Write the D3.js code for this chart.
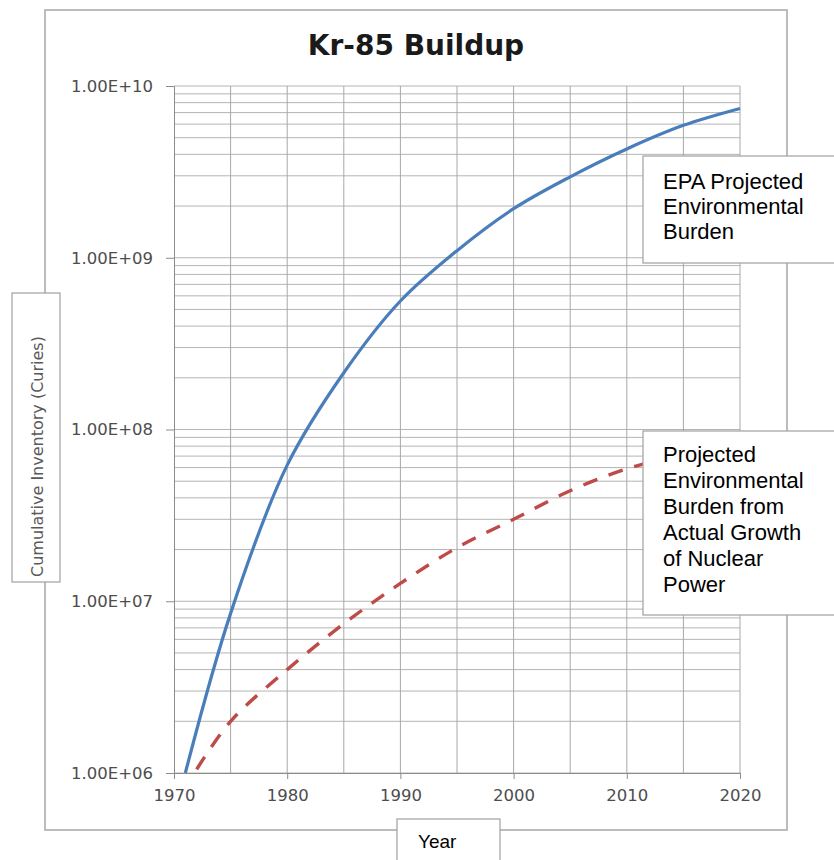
<!DOCTYPE html>
<html>
<head>
<meta charset="utf-8">
<script src="https://cdn.jsdelivr.net/npm/d3@7"></script>
<style>
  html, body { margin: 0; padding: 0; background: #fff; }
  svg { display: block; }
</style>
</head>
<body>
<svg id="chart" width="834" height="860"></svg>
<script>
// Kr-85 buildup, log-scale cumulative inventory
const epaYears   = [1971, 1975, 1980, 1985, 1990, 1995, 2000, 2005, 2010, 2015, 2020];
const epaValues  = [1.0e6, 8.5e6, 6.2e7, 2.14e8, 5.6e8, 1.1e9, 1.93e9, 2.96e9, 4.3e9, 5.9e9, 7.4e9];
const actYears   = [1972, 1975, 1980, 1985, 1990, 1995, 2000, 2005, 2010, 2015, 2020];
const actValues  = [1.05e6, 2.0e6, 4.0e6, 7.4e6, 1.27e7, 2.05e7, 3.0e7, 4.4e7, 5.9e7, 7.2e7, 8.5e7];
const xTicks     = [1970, 1980, 1990, 2000, 2010, 2020];
const xGrid      = [1975, 1980, 1985, 1990, 1995, 2000, 2005, 2010, 2015, 2020];
const yTicks     = [1e6, 1e7, 1e8, 1e9, 1e10];
const epaLabel   = ['EPA Projected', 'Environmental', 'Burden'];
const actLabel   = ['Projected', 'Environmental', 'Burden from', 'Actual Growth', 'of Nuclear', 'Power'];

const BLUE = '#4a7ebb', RED = '#be4b48', GRID = '#b4b4b4', VGRID = '#a8a8a8', AXIS = '#8c8c8c', TXT = '#4d4d4d';
const PL = 174, PR = 740, PT = 86, PB = 773;

const svg = d3.select('#chart');
const x = d3.scaleLinear().domain([1970, 2020]).range([PL, PR]);
const y = d3.scaleLog().domain([1e6, 1e10]).range([PB, PT]);

// outer chart frame
svg.append('rect').attr('x', 45).attr('y', 10).attr('width', 742).attr('height', 820)
  .attr('fill', '#fff').attr('stroke', '#a6a6a6').attr('stroke-width', 1.5);

svg.append('text').attr('x', 416).attr('y', 55).attr('text-anchor', 'middle')
  .attr('font-family', '"DejaVu Sans", sans-serif').attr('font-weight', 'bold').attr('font-size', 28)
  .attr('fill', '#1a1a1a').text('Kr-85 Buildup');

// log grid: 1..9 per decade
const minor = [];
for (let k = 6; k < 10; k++) for (let m = 1; m <= 9; m++) minor.push(m * Math.pow(10, k));
minor.push(1e10);
const grid = svg.append('g');
grid.selectAll('line.h').data(minor).join('line').attr('class', 'h')
  .attr('x1', PL).attr('x2', PR).attr('y1', d => y(d)).attr('y2', d => y(d))
  .attr('stroke', GRID).attr('stroke-width', 1);
grid.selectAll('line.v').data(xGrid).join('line').attr('class', 'v')
  .attr('x1', d => x(d)).attr('x2', d => x(d)).attr('y1', PT).attr('y2', PB)
  .attr('stroke', VGRID).attr('stroke-width', 1);

// axes
const fmt = d => d3.format('.2e')(d).replace('e+', 'E+').replace(/E\+(\d)$/, 'E+0$1');
const yAx = svg.append('g').attr('transform', `translate(${PL},0)`)
  .call(d3.axisLeft(y).tickValues(yTicks).tickFormat(fmt).tickSize(8).tickPadding(13));
const xAx = svg.append('g').attr('transform', `translate(0,${PB})`)
  .call(d3.axisBottom(x).tickValues(xTicks).tickFormat(d3.format('d')).tickSize(6).tickPadding(10));
[yAx, xAx].forEach(a => {
  a.select('.domain').attr('stroke', AXIS);
  a.selectAll('.tick line').attr('stroke', AXIS);
  a.selectAll('.tick text').attr('fill', TXT).attr('font-size', 16.5)
    .attr('font-family', '"DejaVu Sans", sans-serif');
});

// series
const line = d3.line().x(d => x(d[0])).y(d => y(d[1])).curve(d3.curveCatmullRom.alpha(0.5));
svg.append('path').datum(d3.zip(actYears, actValues)).attr('d', line)
  .attr('fill', 'none').attr('stroke', RED).attr('stroke-width', 3.4)
  .attr('stroke-dasharray', '15,12');
svg.append('path').datum(d3.zip(epaYears, epaValues)).attr('d', line)
  .attr('fill', 'none').attr('stroke', BLUE).attr('stroke-width', 3.2);

// text boxes
function box(x0, y0, w, h) {
  return svg.append('rect').attr('x', x0).attr('y', y0).attr('width', w).attr('height', h)
    .attr('fill', '#fff').attr('stroke', '#a0a0a0').attr('stroke-width', 1.2);
}
function label(lines, x0, y0, dy) {
  const t = svg.append('text').attr('font-family', '"Liberation Sans", Arial, sans-serif')
    .attr('font-size', 22).attr('fill', '#000');
  lines.forEach((s, i) => t.append('tspan').attr('x', x0).attr('y', y0 + i * dy).text(s));
}

box(12, 293, 48, 289);
svg.append('text').attr('transform', 'translate(43,577) rotate(-90)')
  .attr('font-family', '"DejaVu Sans", sans-serif').attr('font-size', 16).attr('fill', '#595959')
  .text('Cumulative Inventory (Curies)');

box(397, 819, 103, 60);
svg.append('text').attr('x', 418).attr('y', 848)
  .attr('font-family', '"Liberation Sans", Arial, sans-serif').attr('font-size', 19).attr('fill', '#000')
  .text('Year');

box(643, 156, 200, 107);
label(epaLabel, 663, 189, 25);

box(643, 431, 200, 184);
label(actLabel, 663, 462, 26);
</script>
</body>
</html>
